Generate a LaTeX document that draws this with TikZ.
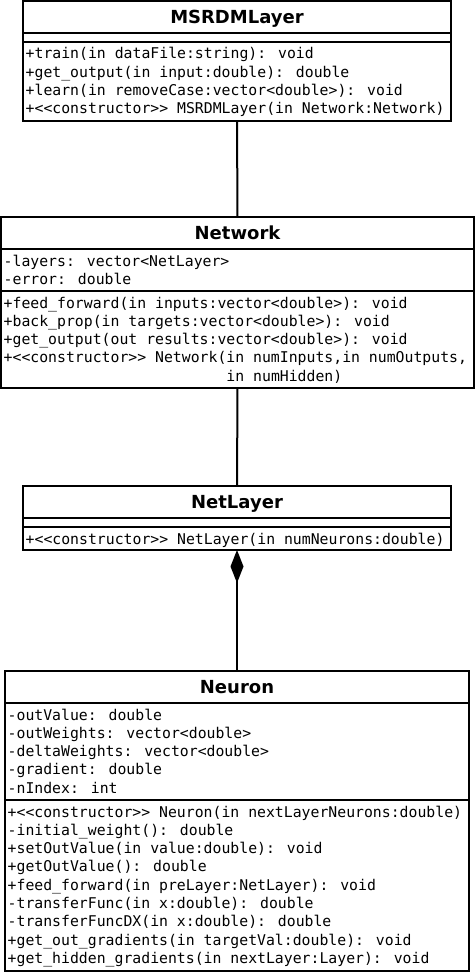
\documentclass[tikz,border=0pt]{standalone}
\usepackage{fontspec}
\setmainfont{DejaVu Sans}
\newfontfamily\monof{DejaVu Sans Mono}
\usetikzlibrary{arrows.meta}
\tikzset{
  classbox/.style={draw, line width=2pt, inner sep=0pt, outer sep=0pt},
  sepline/.style={line width=2pt},
  member/.style={anchor=base west, inner sep=0pt, font=\monof\fontsize{14.8}{18}\selectfont},
  ctitle/.style={anchor=base, inner sep=0pt, font=\bfseries\fontsize{18}{20}\selectfont},
  conn/.style={line width=2pt},
}
\begin{document}
\begin{tikzpicture}[x=1pt,y=-1pt]
\useasboundingbox (0,0) rectangle (475,973);
% ---------- MSRDMLayer ----------
\node[classbox, minimum width=428pt, minimum height=120pt] (msrdm) at (237,61) {};
\draw[sepline] (23,33) -- (451,33);
\draw[sepline] (23,42) -- (451,42);
\node[ctitle] (msrdmT) at (237,23.5) {MSRDMLayer};
\node[member] (m1) at (25.5,59) {+train(in dataFile:string): void};
\node[member] (m2) at (25.5,77.3) {+get\_output(in input:double): double};
\node[member] (m3) at (25.5,95.6) {+learn(in removeCase:vector<double>): void};
\node[member] (m4) at (25.5,113.9) {+<<constructor>> MSRDMLayer(in Network:Network)};
% ---------- Network ----------
\node[classbox, minimum width=473pt, minimum height=171pt] (network) at (237.5,302.5) {};
\draw[sepline] (1,249) -- (474,249);
\draw[sepline] (1,291) -- (474,291);
\node[ctitle] (networkT) at (237.5,239.5) {Network};
\node[member] (n1) at (3.5,266) {-layers: vector<NetLayer>};
\node[member] (n2) at (3.5,284.3) {-error: double};
\node[member] (n3) at (3.5,308) {+feed\_forward(in inputs:vector<double>): void};
\node[member] (n4) at (3.5,326.3) {+back\_prop(in targets:vector<double>): void};
\node[member] (n5) at (3.5,344.6) {+get\_output(out results:vector<double>): void};
\node[member] (n6) at (3.5,362.9) {+<<constructor>> Network(in numInputs,in numOutputs,};
\node[member] (n7) at (3.5,381.2) {\phantom{+<<constructor>> Network(}in numHidden)};
% ---------- NetLayer ----------
\node[classbox, minimum width=428pt, minimum height=64pt] (netlayer) at (237,518) {};
\draw[sepline] (23,518) -- (451,518);
\draw[sepline] (23,527) -- (451,527);
\node[ctitle] (netlayerT) at (237,508.5) {NetLayer};
\node[member] (l1) at (25.5,544) {+<<constructor>> NetLayer(in numNeurons:double)};
% ---------- Neuron ----------
\node[classbox, minimum width=464pt, minimum height=300pt] (neuron) at (237,821) {};
\draw[sepline] (5,703) -- (469,703);
\draw[sepline] (5,800) -- (469,800);
\node[ctitle] (neuronT) at (237,693.5) {Neuron};
\node[member] (a1) at (7.5,720) {-outValue: double};
\node[member] (a2) at (7.5,738.3) {-outWeights: vector<double>};
\node[member] (a3) at (7.5,756.6) {-deltaWeights: vector<double>};
\node[member] (a4) at (7.5,774.9) {-gradient: double};
\node[member] (a5) at (7.5,793.2) {-nIndex: int};
\node[member] (o1) at (7.5,817) {+<<constructor>> Neuron(in nextLayerNeurons:double)};
\node[member] (o2) at (7.5,835.3) {-initial\_weight(): double};
\node[member] (o3) at (7.5,853.6) {+setOutValue(in value:double): void};
\node[member] (o4) at (7.5,871.9) {+getOutValue(): double};
\node[member] (o5) at (7.5,890.2) {+feed\_forward(in preLayer:NetLayer): void};
\node[member] (o6) at (7.5,908.5) {-transferFunc(in x:double): double};
\node[member] (o7) at (7.5,926.8) {-transferFuncDX(in x:double): double};
\node[member] (o8) at (7.5,945.1) {+get\_out\_gradients(in targetVal:double): void};
\node[member] (o9) at (7.5,963.4) {+get\_hidden\_gradients(in nextLayer:Layer): void};
% ---------- connectors ----------
\draw[conn] (msrdm.south) -- (network.north);
\draw[conn] (network.south) -- (netlayer.north);
\draw[conn, {Diamond[length=33pt,width=13pt,fill=black]}-] (netlayer.south) -- (neuron.north);
\end{tikzpicture}
\end{document}
